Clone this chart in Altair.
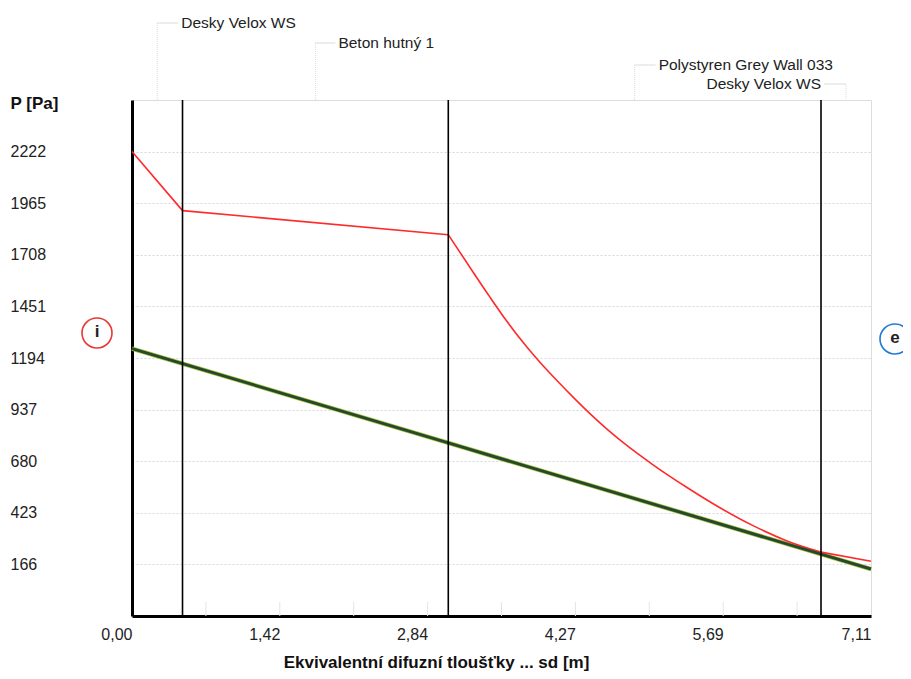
import altair as alt
import pandas as pd

# ---------------- data ----------------
layer_names = ["Desky Velox WS", "Beton hutný 1", "Polystyren Grey Wall 033", "Desky Velox WS"]
layer_bounds = [0.0, 0.486, 3.043, 6.629, 7.11]

# saturated vapour pressure (red), one pair of lists per material layer
sat_sd_1 = [0.0, 0.486]
sat_p_1 = [2222, 1928]
sat_sd_2 = [0.486, 3.043]
sat_p_2 = [1928, 1808]
sat_sd_3 = [3.043, 3.284, 3.444, 3.605, 3.797, 3.925, 4.086, 4.246, 4.406,
            4.567, 4.727, 5.013, 5.340, 5.657, 5.975, 6.302, 6.629]
sat_p_3 = [1808, 1620, 1497, 1378, 1250, 1173, 1083, 998, 917,
           841, 772, 662, 549, 448, 359, 283, 227]
sat_sd_4 = [6.629, 7.11]
sat_p_4 = [227, 182]

# partial vapour pressure (green)
sd_vap = [0.0, 0.486, 3.043, 6.629, 7.11]
p_vap = [1241, 1166, 771, 217, 143]

x_ticks = [0.0, 1.422, 2.844, 4.266, 5.688, 7.11]
y_ticks = [166, 423, 680, 937, 1194, 1451, 1708, 1965, 2222]
x_domain = [0.0, 7.11]
y_domain = [-91, 2479]
minor_x = [0.711 * k for k in range(1, 10)]

# --------------- frames ---------------
sat_parts = []
for k, (sds, ps) in enumerate([(sat_sd_1, sat_p_1), (sat_sd_2, sat_p_2),
                               (sat_sd_3, sat_p_3), (sat_sd_4, sat_p_4)]):
    sat_parts.append(pd.DataFrame({"sd": sds, "p": ps, "seg": k}))
sat_df = pd.concat(sat_parts, ignore_index=True)
vap_df = pd.DataFrame({"sd": sd_vap, "p": p_vap})
bound_df = pd.DataFrame({"sd": layer_bounds[1:-1]})
minor_df = pd.DataFrame({"sd": minor_x, "p": [y_domain[0]] * len(minor_x),
                         "p2": [y_domain[0] + 70] * len(minor_x)})

FONT = "Liberation Sans"

x_enc = alt.X(
    "sd:Q",
    scale=alt.Scale(domain=x_domain, nice=False, zero=False),
    axis=alt.Axis(
        values=x_ticks,
        labelExpr="replace(format(datum.value, '.2f'), '.', ',')",
        title="Ekvivalentní difuzní tloušťky ... sd [m]",
        grid=False, ticks=False, tickSize=0,
        domainColor="black", domainWidth=3,
        labelAlign="right", labelBaseline="top", labelPadding=10,
        labelFontSize=16, labelFont=FONT, labelColor="#222222",
        titleFont=FONT, titleFontSize=17, titleFontWeight="bold", titleColor="#111111",
        titleX=304, titleY=46, titleAlign="center", titleBaseline="middle",
    ),
)
y_enc = alt.Y(
    "p:Q",
    scale=alt.Scale(domain=y_domain, nice=False, zero=False),
    axis=alt.Axis(
        values=y_ticks, format="d",
        title="P [Pa]",
        grid=True, gridColor="#d4d6e2", gridDash=[2, 2], gridWidth=1,
        ticks=False, tickSize=0,
        domainColor="black", domainWidth=3,
        labelAlign="left", labelBaseline="middle", labelPadding=122,
        labelFontSize=16, labelFont=FONT, labelColor="#222222",
        titleAngle=0, titleX=-122, titleY=3, titleAlign="left", titleBaseline="middle",
        titleFont=FONT, titleFontSize=17, titleFontWeight="bold", titleColor="#111111",
    ),
)

sat_line = alt.Chart(sat_df).mark_line(color="#ff2a2a", strokeWidth=1.6,
                                       interpolate="monotone").encode(
    x=x_enc, y=y_enc, detail="seg:N")
vap_halo = alt.Chart(vap_df).mark_line(color="#aebf3a", strokeWidth=4.4).encode(
    x="sd:Q", y="p:Q")
vap_line = alt.Chart(vap_df).mark_line(color="#234a2e", strokeWidth=3).encode(
    x="sd:Q", y="p:Q")
bounds = alt.Chart(bound_df).mark_rule(color="black", strokeWidth=1.6).encode(x="sd:Q")
minor = alt.Chart(minor_df).mark_rule(color="#e2e4ea", strokeWidth=1).encode(
    x="sd:Q", y="p:Q", y2="p2:Q")

layers = [minor, vap_halo, sat_line, vap_line, bounds]

# ---------- layer name annotations above the plot ----------
label_layout = [  # (y pixel above plot, text dx, align)
    (-77, 24, "left"),
    (-57, 23, "left"),
    (-35, 24, "left"),
    (-16, -25, "right"),
]
one = alt.Data(values=[{}])
lead_color = "#d6dfd6"
for i, name in enumerate(layer_names):
    mid = (layer_bounds[i] + layer_bounds[i + 1]) / 2
    ly, dx, align = label_layout[i]
    layers.append(
        alt.Chart(one).mark_rule(color=lead_color, strokeWidth=1, strokeDash=[1, 1]).encode(
            x=alt.datum(mid), y=alt.value(ly), y2=alt.value(0))
    )
    if align == "left":
        hx1, hx2 = 0, dx - 3
    else:
        hx1, hx2 = dx + 3, 0
    layers.append(
        alt.Chart(one).mark_rule(color=lead_color, strokeWidth=1, xOffset=hx1, x2Offset=hx2).encode(
            x=alt.datum(mid), x2=alt.datum(mid), y=alt.value(ly))
    )
    layers.append(
        alt.Chart(one).mark_text(text=name, align=align, baseline="middle", dx=dx,
                                 font=FONT, fontSize=15.5, color="#222222").encode(
            x=alt.datum(mid), y=alt.value(ly))
    )

# ---------- i / e markers ----------
for letter, colr, px, py in [("i", "#e53935", -35, 233), ("e", "#1e7bd6", 763, 239)]:
    layers.append(
        alt.Chart(one).mark_point(shape="circle", size=900, filled=True, fill="white",
                                  stroke=colr, strokeWidth=1.6, opacity=1).encode(
            x=alt.value(px), y=alt.value(py))
    )
    layers.append(
        alt.Chart(one).mark_text(text=letter, font=FONT, fontSize=17, fontWeight="bold",
                                 color="#222222", baseline="middle", align="center", dy=-1).encode(
            x=alt.value(px), y=alt.value(py))
    )

chart = alt.layer(*layers).properties(
    width=739, height=516,
    autosize=alt.AutoSizeParams(type="none"),
    padding={"left": 124, "top": 92, "right": 32, "bottom": 55},
    background="white",
).configure_view(stroke="black", strokeWidth=2).configure(font=FONT)

chart.save("out.html", embed_options={"renderer": "svg", "actions": False})
